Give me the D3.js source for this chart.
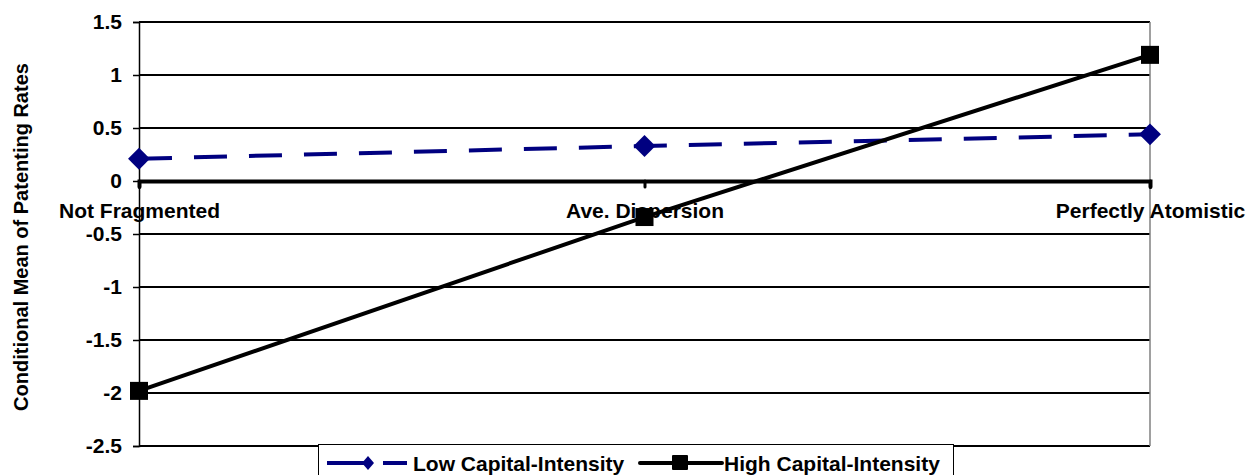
<!DOCTYPE html>
<html>
<head>
<meta charset="utf-8">
<script src="https://cdn.jsdelivr.net/npm/d3@7"></script>
<style>
  body { margin: 0; background: #fff; }
  text { font-family: "Liberation Sans", Arial, sans-serif; font-weight: bold; }
</style>
</head>
<body>
<div id="chart"></div>
<script>
const categories = ['Not Fragmented', 'Ave. Dispersion', 'Perfectly Atomistic'];
const lowValues = [0.21, 0.33, 0.44];
const highValues = [-1.98, -0.34, 1.19];
const yTicks = [1.5, 1, 0.5, 0, -0.5, -1, -1.5, -2, -2.5];
const seriesNames = ['Low Capital-Intensity', 'High Capital-Intensity'];

const width = 1246, height = 475;
const marginTop = 22, marginRight = 96, marginBottom = 29, marginLeft = 139;

const svg = d3.select('#chart').append('svg')
  .attr('width', width)
  .attr('height', height)
  .attr('viewBox', [0, 0, width, height]);

// scales
const x = d3.scalePoint()
  .domain(categories)
  .range([marginLeft, width - marginRight])
  .padding(0);

const y = d3.scaleLinear()
  .domain([-2.5, 1.5])
  .range([height - marginBottom, marginTop]);

// plain hyphen for negatives, like the original
const fmt = d => String(d);

// gridlines
svg.append('g')
  .selectAll('line')
  .data(yTicks)
  .join('line')
    .attr('x1', marginLeft)
    .attr('x2', width - marginRight)
    .attr('y1', d => y(d))
    .attr('y2', d => y(d))
    .attr('stroke', '#000')
    .attr('stroke-width', 2);

// right plot border
svg.append('line')
  .attr('x1', width - marginRight).attr('x2', width - marginRight)
  .attr('y1', y(1.5)).attr('y2', y(-2.5))
  .attr('stroke', '#808080').attr('stroke-width', 1.5);

// y-axis
svg.append('g')
  .attr('transform', `translate(${marginLeft},0)`)
  .call(d3.axisLeft(y).tickValues(yTicks).tickSize(6).tickPadding(11).tickFormat(fmt))
  .call(g => g.select('.domain').attr('stroke-width', 1.5))
  .call(g => g.selectAll('.tick line').attr('stroke-width', 1.5))
  .call(g => g.selectAll('.tick text')
    .style('font-size', '21px')
    .attr('fill', '#000'));

// x-axis at zero
svg.append('g')
  .attr('transform', `translate(0,${y(0)})`)
  .call(d3.axisBottom(x).tickSize(6).tickPadding(16))
  .call(g => g.select('.domain').attr('stroke-width', 4).attr('stroke-linecap', 'round'))
  .call(g => g.selectAll('.tick line').attr('stroke-width', 3).attr('stroke-linecap', 'round'))
  .call(g => g.selectAll('.tick text')
    .style('font-size', '21px')
    .attr('fill', '#000'));

// y-axis title
svg.append('text')
  .attr('transform', `translate(28,${(y(1.5) + y(-2.5)) / 2 + 3}) rotate(-90)`)
  .attr('text-anchor', 'middle')
  .style('font-size', '20px')
  .attr('fill', '#000')
  .text('Conditional Mean of Patenting Rates');

const line = d3.line()
  .x((d, i) => x(categories[i]))
  .y(d => y(d));

// low series
svg.append('path')
  .datum(lowValues)
  .attr('d', line)
  .attr('fill', 'none')
  .attr('stroke', '#000080')
  .attr('stroke-width', 4)
  .attr('stroke-dasharray', '33,22');

// high series
svg.append('path')
  .datum(highValues)
  .attr('d', line)
  .attr('fill', 'none')
  .attr('stroke', '#000')
  .attr('stroke-width', 4);

const diamond = d3.symbol().type(d3.symbolSquare).size(240);
svg.append('g')
  .selectAll('path')
  .data(lowValues)
  .join('path')
    .attr('d', diamond)
    .attr('transform', (d, i) => `translate(${x(categories[i])},${y(d)}) rotate(45)`)
    .attr('fill', '#000080');

svg.append('g')
  .selectAll('rect')
  .data(highValues)
  .join('rect')
    .attr('x', (d, i) => x(categories[i]) - 9)
    .attr('y', d => y(d) - 9)
    .attr('width', 18)
    .attr('height', 18)
    .attr('fill', '#000');

// legend
const legend = svg.append('g');
legend.append('rect')
  .attr('x', 318.5).attr('y', 444.5)
  .attr('width', 635).attr('height', 40)
  .attr('fill', '#fff')
  .attr('stroke', '#000')
  .attr('stroke-width', 1);

// low sample
legend.append('line')
  .attr('x1', 327).attr('x2', 368).attr('y1', 463).attr('y2', 463)
  .attr('stroke', '#000080').attr('stroke-width', 4);
legend.append('line')
  .attr('x1', 383).attr('x2', 407).attr('y1', 463).attr('y2', 463)
  .attr('stroke', '#000080').attr('stroke-width', 4);
legend.append('path')
  .attr('d', 'M0,-7L6,0L0,7L-6,0Z')
  .attr('transform', 'translate(368,463)')
  .attr('fill', '#000080');
legend.append('text')
  .attr('x', 413).attr('y', 471)
  .style('font-size', '21px')
  .attr('fill', '#000')
  .text(seriesNames[0]);

// high sample
legend.append('line')
  .attr('x1', 640).attr('x2', 722).attr('y1', 463).attr('y2', 463)
  .attr('stroke', '#000').attr('stroke-width', 4).attr('stroke-linecap', 'round');
legend.append('rect')
  .attr('x', 672).attr('y', 455).attr('width', 16).attr('height', 15)
  .attr('rx', 1)
  .attr('fill', '#000');
legend.append('text')
  .attr('x', 724).attr('y', 471)
  .style('font-size', '21px')
  .attr('fill', '#000')
  .text(seriesNames[1]);
</script>
</body>
</html>
